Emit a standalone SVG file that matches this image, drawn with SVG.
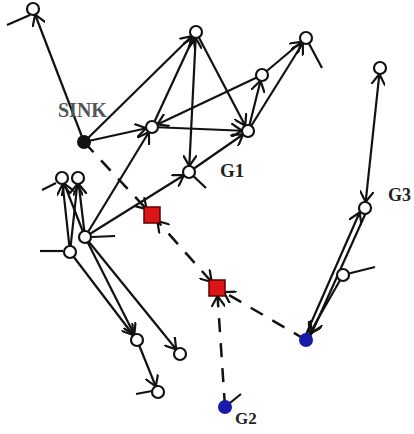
<svg xmlns="http://www.w3.org/2000/svg" width="414" height="434" viewBox="0 0 414 434">
<style>
.e{stroke:#111;stroke-width:2.2;fill:none}
.d{stroke:#111;stroke-width:2.5;fill:none;stroke-dasharray:14 11}
.n{fill:#fff;stroke:#111;stroke-width:2.2}
.lbl{font-family:"Liberation Serif",serif;font-weight:bold;fill:#222}
.ah{fill:none;stroke:#111;stroke-width:2.2}
</style>
<defs>
<marker id="a" viewBox="0 0 14 14" refX="17" refY="7" markerWidth="14" markerHeight="14" markerUnits="userSpaceOnUse" orient="auto-start-reverse"><path class="ah" d="M0,0 L11,7 L0,14"/></marker>
<marker id="as" viewBox="0 0 14 14" refX="19" refY="7" markerWidth="14" markerHeight="14" markerUnits="userSpaceOnUse" orient="auto-start-reverse"><path class="ah" d="M0,0 L11,7 L0,14"/></marker>
<marker id="ab" viewBox="0 0 14 14" refX="18" refY="7" markerWidth="14" markerHeight="14" markerUnits="userSpaceOnUse" orient="auto-start-reverse"><path class="ah" d="M0,0 L11,7 L0,14"/></marker>
</defs>
<rect width="414" height="434" fill="#fff"/>
<g id="connectors">
<line class="e" x1="84" y1="142" x2="33" y2="9" marker-end="url(#a)"/>
<line class="e" x1="84" y1="142" x2="196" y2="32" marker-end="url(#a)"/>
<line class="e" x1="84" y1="142" x2="152" y2="127" marker-end="url(#a)"/>
<line class="e" x1="152" y1="127" x2="196" y2="32" marker-end="url(#a)"/>
<line class="e" x1="262" y1="75" x2="152" y2="127" marker-end="url(#a)"/>
<line class="e" x1="152" y1="127" x2="248" y2="131" marker-end="url(#a)"/>
<line class="e" x1="196" y1="32" x2="248" y2="131" marker-end="url(#a)"/>
<line class="e" x1="196" y1="32" x2="189" y2="172" marker-start="url(#a)" marker-end="url(#a)"/>
<line class="e" x1="189" y1="172" x2="248" y2="131" marker-end="url(#a)"/>
<line class="e" x1="248" y1="131" x2="262" y2="75" marker-end="url(#a)"/>
<line class="e" x1="248" y1="131" x2="306" y2="38" marker-end="url(#a)"/>
<line class="e" x1="262" y1="75" x2="306" y2="38" marker-end="url(#a)"/>
<line class="e" x1="85" y1="237" x2="152" y2="127" marker-end="url(#a)"/>
<line class="e" x1="85" y1="237" x2="189" y2="172" marker-end="url(#a)"/>
<line class="e" x1="70" y1="252" x2="62" y2="178" marker-end="url(#a)"/>
<line class="e" x1="70" y1="252" x2="78" y2="178" marker-end="url(#a)"/>
<line class="e" x1="85" y1="237" x2="62" y2="178" marker-end="url(#a)"/>
<line class="e" x1="85" y1="237" x2="78" y2="178" marker-end="url(#a)"/>
<line class="e" x1="70" y1="252" x2="137" y2="340" marker-end="url(#a)"/>
<line class="e" x1="85" y1="237" x2="137" y2="340" marker-end="url(#a)"/>
<line class="e" x1="85" y1="237" x2="180" y2="354" marker-end="url(#a)"/>
<line class="e" x1="137" y1="340" x2="158" y2="392" marker-end="url(#a)"/>
<line class="e" x1="304" y1="339" x2="362" y2="207" marker-end="url(#a)"/>
<line class="e" x1="368" y1="208" x2="309" y2="339" marker-end="url(#ab)"/>
<line class="e" x1="343" y1="275" x2="306" y2="340" marker-end="url(#ab)"/>
<line class="e" x1="365" y1="208" x2="380" y2="68" marker-start="url(#a)" marker-end="url(#a)"/>
<line class="e" x1="7" y1="25" x2="30" y2="15"/>
<line class="e" x1="306" y1="38" x2="322" y2="68"/>
<line class="e" x1="189" y1="172" x2="206" y2="188"/>
<line class="e" x1="343" y1="275" x2="375" y2="267"/>
<line class="e" x1="225" y1="407" x2="241" y2="394"/>
<line class="e" x1="40" y1="251" x2="63" y2="251"/>
<line class="e" x1="92" y1="237" x2="115" y2="236"/>
<line class="e" x1="42" y1="190" x2="56" y2="183"/>
<line class="e" x1="136" y1="394" x2="152" y2="391"/>
<line class="d" x1="84" y1="142" x2="152" y2="215" marker-end="url(#as)"/>
<line class="d" x1="152" y1="215" x2="217" y2="288" marker-start="url(#as)" marker-end="url(#as)"/>
<line class="d" x1="306" y1="340" x2="217" y2="288" marker-end="url(#as)"/>
<line class="d" x1="225" y1="407" x2="217" y2="288" marker-end="url(#as)"/>
</g>
<g id="N1"><circle class="n" cx="33" cy="9" r="6"/></g>
<g id="N2"><circle class="n" cx="196" cy="32" r="6"/></g>
<g id="N3"><circle class="n" cx="306" cy="38" r="6"/></g>
<g id="N4"><circle class="n" cx="262" cy="75" r="6"/></g>
<g id="N5"><circle class="n" cx="152" cy="127" r="6"/></g>
<g id="N6"><circle class="n" cx="248" cy="131" r="6"/></g>
<g id="N7"><circle class="n" cx="189" cy="172" r="6"/></g>
<g id="N8"><circle class="n" cx="380" cy="68" r="6"/></g>
<g id="N9"><circle class="n" cx="365" cy="208" r="6"/></g>
<g id="N10"><circle class="n" cx="343" cy="275" r="6"/></g>
<g id="N11"><circle class="n" cx="62" cy="178" r="6"/></g>
<g id="N12"><circle class="n" cx="78" cy="178" r="6"/></g>
<g id="N13"><circle class="n" cx="85" cy="237" r="6"/></g>
<g id="N14"><circle class="n" cx="70" cy="252" r="6"/></g>
<g id="N15"><circle class="n" cx="137" cy="340" r="6"/></g>
<g id="N16"><circle class="n" cx="180" cy="354" r="6"/></g>
<g id="N17"><circle class="n" cx="158" cy="392" r="6"/></g>
<g id="SINK"><circle cx="84" cy="142" r="7" fill="#111"/><text class="lbl" x="58" y="117" font-size="20" style="fill:#555">SINK</text></g>
<g id="R1"><rect x="144" y="207" width="16" height="16" fill="#dd1515" stroke="#5a0000" stroke-width="1.5"/></g>
<g id="R2"><rect x="209" y="280" width="16" height="16" fill="#dd1515" stroke="#5a0000" stroke-width="1.5"/></g>
<g id="B1"><circle cx="306" cy="340" r="7" fill="#1a1aa8"/></g>
<g id="B2"><circle cx="225" cy="407" r="7" fill="#1a1aa8"/><text class="lbl" x="235" y="424" font-size="17">G2</text></g>
<g id="G1"><text class="lbl" x="220" y="177" font-size="19">G1</text></g>
<g id="G3"><text class="lbl" x="388" y="201" font-size="18">G3</text></g>
</svg>
